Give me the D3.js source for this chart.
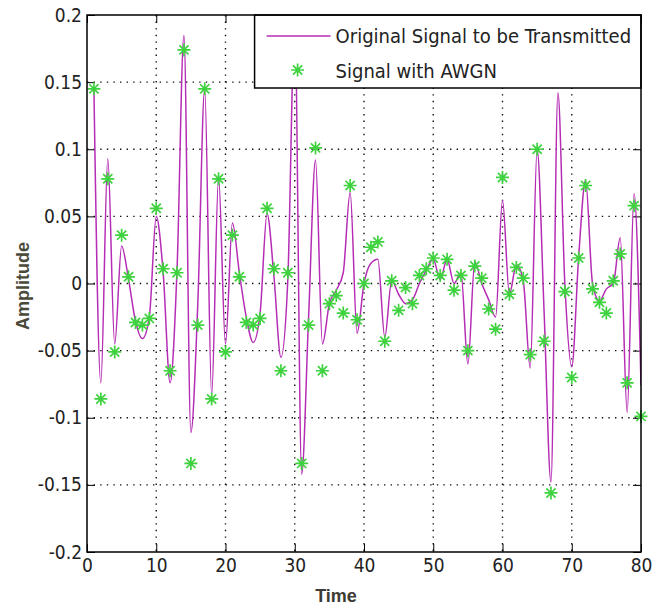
<!DOCTYPE html>
<html>
<head>
<meta charset="utf-8">
<script src="https://cdn.jsdelivr.net/npm/d3@7"></script>
<style>
body { margin: 0; background: #fff; }
.tick text { font-family: 'Liberation Sans Narrow', 'DejaVu Sans Condensed', 'Arial Narrow', sans-serif; font-size: 19px; fill: #222; }
.axis path, .axis line { stroke: #000; }
</style>
</head>
<body>
<svg id="chart" width="662" height="608"></svg>
<script>
// original signal (line) and noisy samples (stars), t = 1..80
var signal = [0.145, -0.074, 0.093, -0.045, 0.028, 0.003, -0.028, -0.041, -0.025, 0.050,
	      0.008, -0.074, 0.010, 0.185, -0.111, -0.015, 0.145, -0.083, 0.079, -0.045,
	      0.045, 0.008, -0.025, -0.044, -0.022, 0.052, 0.005, -0.055, 0.003, 0.195,
	      -0.142, -0.025, 0.092, -0.045, -0.015, -0.005, 0.008, 0.068, -0.037, 0.000,
	      0.015, 0.018, -0.040, 0.002, -0.008, -0.015, -0.012, 0.000, 0.010, 0.018,
	      0.003, 0.018, 0.000, 0.008, -0.060, 0.016, 0.000, -0.012, -0.025, 0.062,
	      -0.008, 0.014, 0.002, -0.063, 0.100, -0.020, -0.148, 0.142, 0.000, -0.062,
	      0.020, 0.077, 0.000, -0.013, -0.004, 0.000, 0.034, -0.096, 0.067, -0.076];

var noisy = [0.145, -0.086, 0.078, -0.051, 0.036, 0.005, -0.029, -0.031, -0.026, 0.056,
	     0.011, -0.065, 0.008, 0.174, -0.134, -0.031, 0.145, -0.086, 0.078, -0.051,
	     0.036, 0.005, -0.029, -0.031, -0.026, 0.056, 0.011, -0.065, 0.008, 0.174,
	     -0.134, -0.031, 0.101, -0.065, -0.015, -0.009, -0.022, 0.073, -0.027, 0.000,
	     0.027, 0.031, -0.043, 0.002, -0.020, -0.003, -0.015, 0.006, 0.011, 0.019,
	     0.006, 0.018, -0.005, 0.006, -0.050, 0.013, 0.004, -0.019, -0.034, 0.079,
	     -0.008, 0.012, 0.004, -0.053, 0.100, -0.043, -0.156, 0.165, -0.006, -0.070,
	     0.019, 0.073, -0.004, -0.014, -0.022, 0.002, 0.022, -0.074, 0.058, -0.099];

var xTicks = [0, 10, 20, 30, 40, 50, 60, 70, 80];
var yTicks = [-0.2, -0.15, -0.1, -0.05, 0, 0.05, 0.1, 0.15, 0.2];
var legendLabels = ["Original Signal to be Transmitted", "Signal with AWGN"];

var margin = {left: 87, top: 15, right: 21, bottom: 56};
var svg = d3.select("#chart");
var width = +svg.attr("width") - margin.left - margin.right;
var height = +svg.attr("height") - margin.top - margin.bottom;
var g = svg.append("g").attr("transform", "translate(" + margin.left + "," + margin.top + ")");

var x = d3.scaleLinear().domain([0, 80]).range([0, width]);
var y = d3.scaleLinear().domain([-0.2, 0.2]).range([height, 0]);

var sig = signal.map((v, i) => ({t: i + 1, v: v}));
var noi = noisy.map((v, i) => ({t: i + 1, v: v}));

g.append("clipPath").attr("id", "clip")
    .append("rect").attr("width", width).attr("height", height);

// dotted grid
g.selectAll(".vgrid")
    .data(xTicks.slice(1, -1))
    .enter().append("line")
    .attr("x1", d => x(d)).attr("x2", d => x(d))
    .attr("y1", 0).attr("y2", height)
    .attr("stroke", "#111").attr("stroke-width", 1.4)
    .attr("stroke-dasharray", "1.4,5.2");
g.selectAll(".hgrid")
    .data(yTicks.slice(1, -1))
    .enter().append("line")
    .attr("y1", d => y(d)).attr("y2", d => y(d))
    .attr("x1", 0).attr("x2", width)
    .attr("stroke", "#111").attr("stroke-width", 1.4)
    .attr("stroke-dasharray", "1.4,5.2");

// plain hyphen for negatives, like matlab
var fmt = d => d === 0 ? "0" : String(+d.toFixed(2));

g.append("g").attr("class", "axis")
    .attr("transform", "translate(0," + height + ")")
    .call(d3.axisBottom(x).tickValues(xTicks).tickSize(-8).tickPadding(7).tickFormat(fmt));
g.append("g").attr("class", "axis")
    .call(d3.axisLeft(y).tickValues(yTicks).tickSize(-8).tickPadding(5).tickFormat(fmt));
g.append("g").attr("class", "axis")
    .attr("transform", "translate(" + width + ",0)")
    .call(d3.axisRight(y).tickValues(yTicks).tickSize(-8).tickFormat(""));
g.append("g").attr("class", "axis")
    .call(d3.axisTop(x).tickValues(xTicks).tickSize(-8).tickFormat(""));
g.selectAll(".axis .domain").remove();

var line = d3.line()
    .x(d => x(d.t))
    .y(d => y(d.v))
    .curve(d3.curveMonotoneX);

g.append("path")
    .datum(sig)
    .attr("clip-path", "url(#clip)")
    .attr("fill", "none")
    .attr("stroke", "#b52db5")
    .attr("stroke-width", 1.5)
    .attr("d", line);

function star(r) {
    var a = r * Math.SQRT1_2;
    return "M" + (-r) + ",0L" + r + ",0M0," + (-r) + "L0," + r +
	"M" + (-a) + "," + (-a) + "L" + a + "," + a +
	"M" + (-a) + "," + a + "L" + a + "," + (-a);
}

g.selectAll(".pt")
    .data(noi)
    .enter().append("path")
    .attr("class", "pt")
    .attr("transform", d => "translate(" + x(d.t) + "," + y(d.v) + ")")
    .attr("d", star(6.5))
    .attr("fill", "none")
    .attr("stroke", "#3fd23f")
    .attr("stroke-width", 1.7);

// legend
var lg = g.append("g").attr("transform", "translate(" + (x(24.2)) + ",0)");
var lw = width - x(24.2);
lg.append("rect")
    .attr("width", lw).attr("height", 73)
    .attr("fill", "#fff").attr("stroke", "#000").attr("stroke-width", 1.5);
lg.append("line")
    .attr("x1", 12).attr("x2", 76).attr("y1", 21).attr("y2", 21)
    .attr("stroke", "#b52db5").attr("stroke-width", 1.5);
lg.append("path")
    .attr("transform", "translate(43,55)")
    .attr("d", star(6.5))
    .attr("fill", "none").attr("stroke", "#3fd23f").attr("stroke-width", 1.7);
lg.selectAll(".lab")
    .data(legendLabels)
    .enter().append("text")
    .attr("x", 81)
    .attr("y", (d, i) => 28 + i * 35)
    .style("font-family", "'Liberation Sans Narrow', 'DejaVu Sans Condensed', 'Arial Narrow', sans-serif")
    .style("font-size", "20px")
    .attr("fill", "#222")
    .text(d => d);

// frame
g.append("rect")
    .attr("width", width).attr("height", height)
    .attr("fill", "none").attr("stroke", "#000").attr("stroke-width", 1.5);

svg.append("text")
    .attr("x", 336)
    .attr("y", 602)
    .attr("text-anchor", "middle")
    .style("font-family", "'Liberation Sans', Arial, sans-serif")
    .style("font-size", "18px")
    .style("font-weight", "bold")
    .attr("fill", "#3c3c34")
    .text("Time");

svg.append("text")
    .attr("transform", "translate(29,286) rotate(-90)")
    .attr("text-anchor", "middle")
    .style("font-family", "'Liberation Sans', Arial, sans-serif")
    .style("font-size", "18px")
    .style("font-weight", "bold")
    .attr("fill", "#4a4a3a")
    .text("Amplitude");
</script>
</body>
</html>
